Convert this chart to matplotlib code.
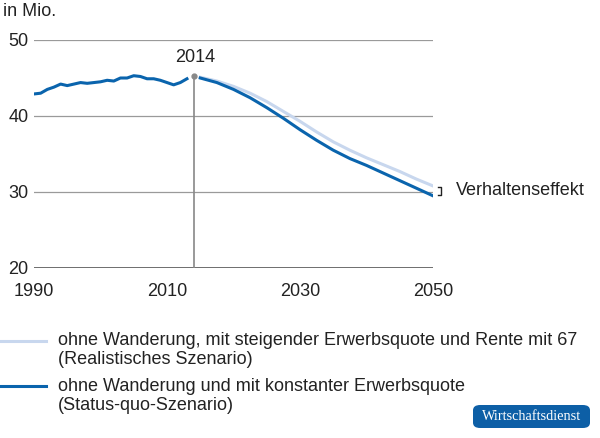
import matplotlib.pyplot as plt
from matplotlib.lines import Line2D
from matplotlib.patches import FancyBboxPatch

plt.rcParams['font.family'] = ['Liberation Sans', 'DejaVu Sans']

# historische Werte (in Mio.)
hist_years = list(range(1990, 2014))
hist_vals = [42.9, 43.0, 43.5, 43.8, 44.2, 44.0, 44.2, 44.4, 44.3, 44.4,
             44.5, 44.7, 44.6, 45.0, 45.0, 45.3, 45.2, 44.9, 44.9, 44.7,
             44.4, 44.1, 44.4, 44.9]
proj_years = [2015, 2017.5, 2020, 2022.5, 2025, 2027.5, 2030, 2032.5,
              2035, 2037.5, 2040, 2042.5, 2045, 2047.5, 2050]
realistic = [45.1, 44.6, 43.9, 43.0, 41.9, 40.6, 39.3, 37.9,
             36.6, 35.5, 34.5, 33.6, 32.7, 31.7, 30.8]
status_quo = [45.0, 44.4, 43.5, 42.4, 41.1, 39.7, 38.2, 36.8,
              35.5, 34.4, 33.5, 32.5, 31.5, 30.5, 29.5]
mark_year, mark_val = 2014, 45.2

dark = '#0a64ad'
light = '#c8d7ee'
grid = '#9a9a9a'
fs = 13

fig = plt.figure(figsize=(6, 4.38), dpi=100)
ax = fig.add_axes([34 / 600, 1 - 268 / 438, 399 / 600, 228 / 438])

for v in (30, 40, 50):
    ax.axhline(v, color=grid, lw=0.9, zorder=1)
ax.axhline(20, color='#555555', lw=1.2, zorder=1)

ax.plot(hist_years, hist_vals, color=dark, lw=2.2, zorder=3)
ax.plot(proj_years, realistic, color=light, lw=2.2, zorder=2)
ax.plot(proj_years, status_quo, color=dark, lw=2.2, zorder=3)

ax.plot([mark_year, mark_year], [20, mark_val], color='#888888', lw=1.2, zorder=2)
ax.plot(mark_year, mark_val, 'o', color='#888888', ms=3.5, zorder=4)
ax.text(mark_year + 0.2, mark_val + 1.4, '2014', ha='center', va='bottom',
        fontsize=fs, color='#222222')

# Klammer Verhaltenseffekt
bx = 2051.2
ax.plot([bx - 0.5, bx, bx, bx - 0.5], [status_quo[-1] + 0.1, status_quo[-1] + 0.1,
        realistic[-1] - 0.1, realistic[-1] - 0.1], color='#222222', lw=1.0,
        clip_on=False)
ax.text(bx + 2.2, 30.2, 'Verhaltenseffekt', ha='left', va='center',
        fontsize=fs, color='#222222')

ax.set_xlim(1990, 2050)
ax.set_ylim(20, 50)
ax.set_xticks([1990, 2010, 2030, 2050])
ax.set_yticks([20, 30, 40, 50])
ax.tick_params(length=0, labelsize=fs, colors='#222222')
ax.tick_params(axis='x', pad=11)
ax.tick_params(axis='y', pad=4)
for s in ax.spines.values():
    s.set_visible(False)

fig.text(3 / 600, 1 - 12 / 438, 'in Mio.', ha='left', va='center',
         fontsize=fs, color='#222222')

# Legende
fig.add_artist(Line2D([0, 46 / 600], [1 - 341 / 438] * 2, color=light, lw=2.2))
fig.text(58 / 600, 1 - 350 / 438,
         'ohne Wanderung, mit steigender Erwerbsquote und Rente mit 67\n(Realistisches Szenario)',
         ha='left', va='center', fontsize=fs, color='#222222', linespacing=1.12)
fig.add_artist(Line2D([0, 46 / 600], [1 - 386 / 438] * 2, color=dark, lw=2.2))
fig.text(58 / 600, 1 - 396 / 438,
         'ohne Wanderung und mit konstanter Erwerbsquote\n(Status-quo-Szenario)',
         ha='left', va='center', fontsize=fs, color='#222222', linespacing=1.12)

badge = FancyBboxPatch((473 / 600, 1 - 428 / 438), 117 / 600, 23 / 438,
                       boxstyle='round,pad=0,rounding_size=0.012',
                       transform=fig.transFigure, facecolor='#0d5fa6',
                       edgecolor='none')
fig.add_artist(badge)
fig.text(531.5 / 600, 1 - 416.5 / 438, 'Wirtschaftsdienst', ha='center', va='center',
         fontsize=10.3, color='white', family=['Liberation Serif', 'DejaVu Serif'])

fig.savefig('out.png', dpi=100)
